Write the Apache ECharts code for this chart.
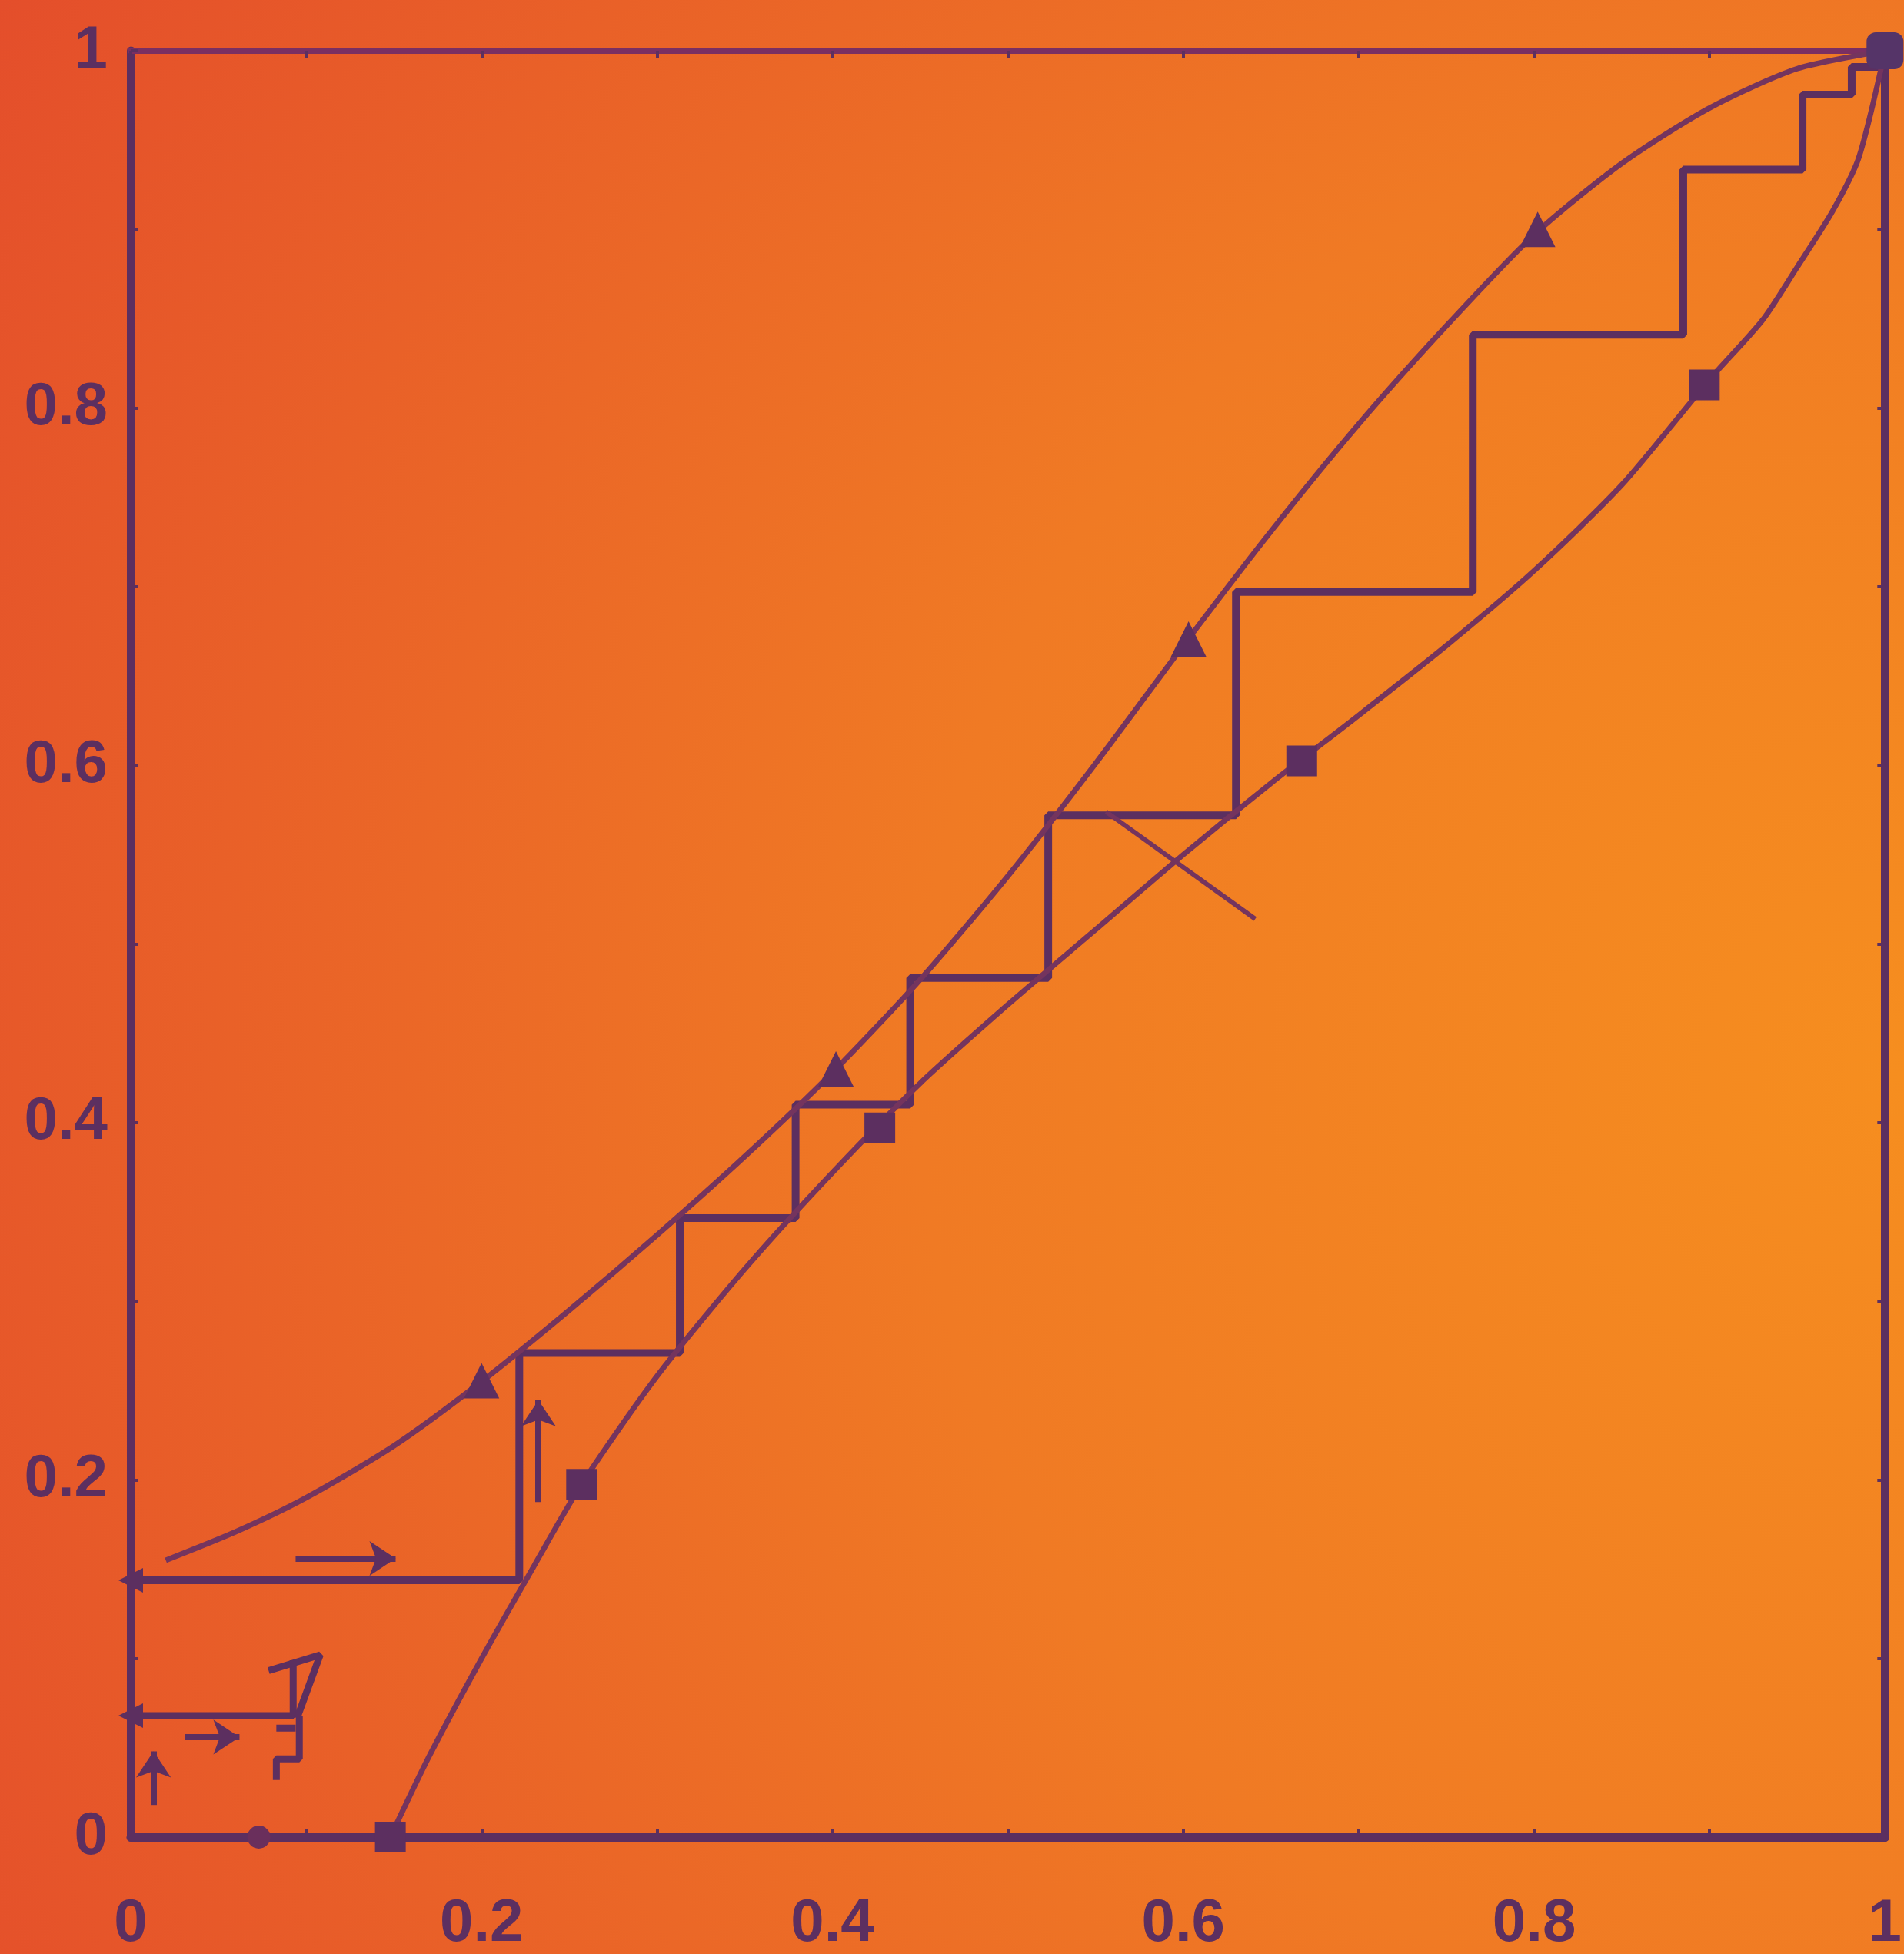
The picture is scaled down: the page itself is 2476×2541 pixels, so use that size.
<!DOCTYPE html>
<html>
<head>
<meta charset="utf-8">
<title>Staircase diagram</title>
<script src="https://cdn.jsdelivr.net/npm/echarts@6/dist/echarts.min.js"></script>
<style>
  html, body { margin: 0; padding: 0; }
  #chart { width: 2476px; height: 2541px; }
</style>
</head>
<body>
<div id="chart"></div>
<script>
// tick labels, shown every 0.2 (ticks every 0.1)
const tickLabels = ['0', '0.2', '0.4', '0.6', '0.8', '1'];

// upper curve (triangles)
const upperCurve = [
  [0.02, 0.155], [0.06, 0.171], [0.1, 0.19], [0.15, 0.219], [0.2, 0.255],
  [0.25, 0.295], [0.3, 0.337], [0.35, 0.381], [0.4, 0.428], [0.45, 0.48],
  [0.5, 0.538], [0.55, 0.601], [0.6, 0.667], [0.65, 0.731], [0.7, 0.791],
  [0.75, 0.846], [0.8, 0.897], [0.85, 0.937], [0.9, 0.968], [0.95, 0.99],
  [1.0, 1.0]
];
const upperMarks = [[0.2, 0.2555], [0.402, 0.43], [0.603, 0.6707], [0.802, 0.9]];

// lower curve (squares)
const lowerCurve = [
  [0.148, 0], [0.17, 0.045], [0.2, 0.1], [0.23, 0.152], [0.257, 0.1975],
  [0.3, 0.258], [0.35, 0.318], [0.4, 0.372], [0.45, 0.422], [0.5, 0.466],
  [0.55, 0.508], [0.6, 0.55], [0.65, 0.59], [0.7, 0.628], [0.75, 0.667],
  [0.8, 0.709], [0.85, 0.757], [0.9, 0.816], [0.93, 0.849], [0.95, 0.879],
  [0.97, 0.91], [0.985, 0.94], [1.0, 1.0]
];
const lowerMarks = [[0.148, 0], [0.257, 0.1975], [0.427, 0.397], [0.6675, 0.6024], [0.897, 0.813]];
const endMark = [[1.0, 1.0]];
const baseMark = [[0.073, 0]];
const axisMarks = [[0, 0.1438], [0, 0.068]];

// stepped construction
const staircase = [
  [0, 0.1438], [0.2215, 0.1438], [0.2215, 0.271], [0.313, 0.271], [0.313, 0.3465],
  [0.379, 0.3465], [0.379, 0.41], [0.4443, 0.41], [0.4443, 0.481], [0.523, 0.481],
  [0.523, 0.572], [0.63, 0.572], [0.63, 0.697], [0.765, 0.697], [0.765, 0.841],
  [0.885, 0.841], [0.885, 0.9335], [0.953, 0.9335], [0.953, 0.9755], [0.981, 0.9755],
  [0.981, 0.991], [1.0, 0.991]
];
const smallSteps = [
  [[0, 0.068], [0.0926, 0.068], [0.0926, 0.099]],
  [[0.0786, 0.0932], [0.108, 0.102], [0.0948, 0.0666]],
  [[0.0961, 0.068], [0.0961, 0.0438], [0.083, 0.0438], [0.083, 0.032]],
  [[0.083, 0.061], [0.094, 0.061]]
];
const qLine = [[0.556, 0.574], [0.641, 0.514]];

// direction arrows
const arrows = [
  [[0.031, 0.056], [0.062, 0.056]],
  [[0.013, 0.018], [0.013, 0.048]],
  [[0.094, 0.156], [0.151, 0.156]],
  [[0.2324, 0.1876], [0.2324, 0.2446]]
];

const ink = '#5c2f60';
const curveInk = '#74345e';
const fontFamily = '"Liberation Sans", Arial, sans-serif';

const labelFor = (value) => {
  const i = Math.round(value * 10);
  return i % 2 === 0 ? tickLabels[i / 2] : '';
};

const frameAxis = (extra) => Object.assign({
  type: 'value',
  min: 0,
  max: 1,
  interval: 0.1,
  splitLine: { show: false },
  axisLine: { show: true, onZero: false, lineStyle: { color: ink, width: 11 } },
  axisTick: { show: true, inside: true, length: 10, lineStyle: { color: ink, width: 4 } }
}, extra);

const lineSeries = (data, width, color) => ({
  type: 'line',
  data: data,
  symbol: 'none',
  silent: true,
  lineStyle: { color: color || ink, width: width },
  z: 3
});

const markSeries = (data, symbol, size, extra) => Object.assign({
  type: 'scatter',
  data: data,
  symbol: symbol,
  symbolSize: size,
  silent: true,
  clip: false,
  itemStyle: { color: ink, opacity: 1 },
  z: 5
}, extra);

const chart = echarts.init(document.getElementById('chart'));
const option = {
  animation: false,
  backgroundColor: {
    type: 'radial', x: 1.0, y: 0.55, r: 1.15,
    colorStops: [
      { offset: 0, color: '#f68e1f' },
      { offset: 0.45, color: '#f07a24' },
      { offset: 1, color: '#e44e2b' }
    ]
  },
  grid: { left: 170, right: 17, top: 66, bottom: 146 },
  xAxis: [
    frameAxis({
      position: 'bottom',
      axisLabel: {
        formatter: labelFor, margin: 74, color: ink, fontWeight: 'bold',
        fontFamily: fontFamily, fontSize: 78, verticalAlign: 'top'
      }
    }),
    frameAxis({
      position: 'top',
      axisLabel: { show: false },
      axisLine: { show: true, onZero: false, lineStyle: { color: '#7a2f62', width: 8 } }
    })
  ],
  yAxis: [
    frameAxis({
      position: 'left',
      axisLabel: {
        formatter: labelFor, margin: 30, color: ink, fontWeight: 'bold',
        fontFamily: fontFamily, fontSize: 78
      }
    }),
    frameAxis({ position: 'right', axisLabel: { show: false } })
  ],
  series: [
    lineSeries(staircase, 10),
    ...smallSteps.map(s => lineSeries(s, 9)),
    lineSeries(qLine, 6, curveInk),
    Object.assign(lineSeries(upperCurve, 7, curveInk), { smooth: 0.25 }),
    Object.assign(lineSeries(lowerCurve, 7, curveInk), { smooth: 0.25 }),
    markSeries(upperMarks, 'triangle', 46),
    markSeries(lowerMarks, 'rect', 40),
    markSeries(endMark, 'roundRect', 48, { itemStyle: { color: '#553468', opacity: 1 } }),
    markSeries(baseMark, 'circle', 30, { itemStyle: { color: '#6a2f5c', opacity: 1 } }),
    markSeries(axisMarks, 'triangle', 32, { symbolRotate: 90 }),
    {
      type: 'lines',
      coordinateSystem: 'cartesian2d',
      data: arrows.map(a => ({ coords: a })),
      symbol: ['none', 'arrow'],
      symbolSize: 34,
      silent: true,
      lineStyle: { color: ink, width: 8, opacity: 1 },
      z: 5
    }
  ]
};
chart.setOption(option, true);
</script>
</body>
</html>
